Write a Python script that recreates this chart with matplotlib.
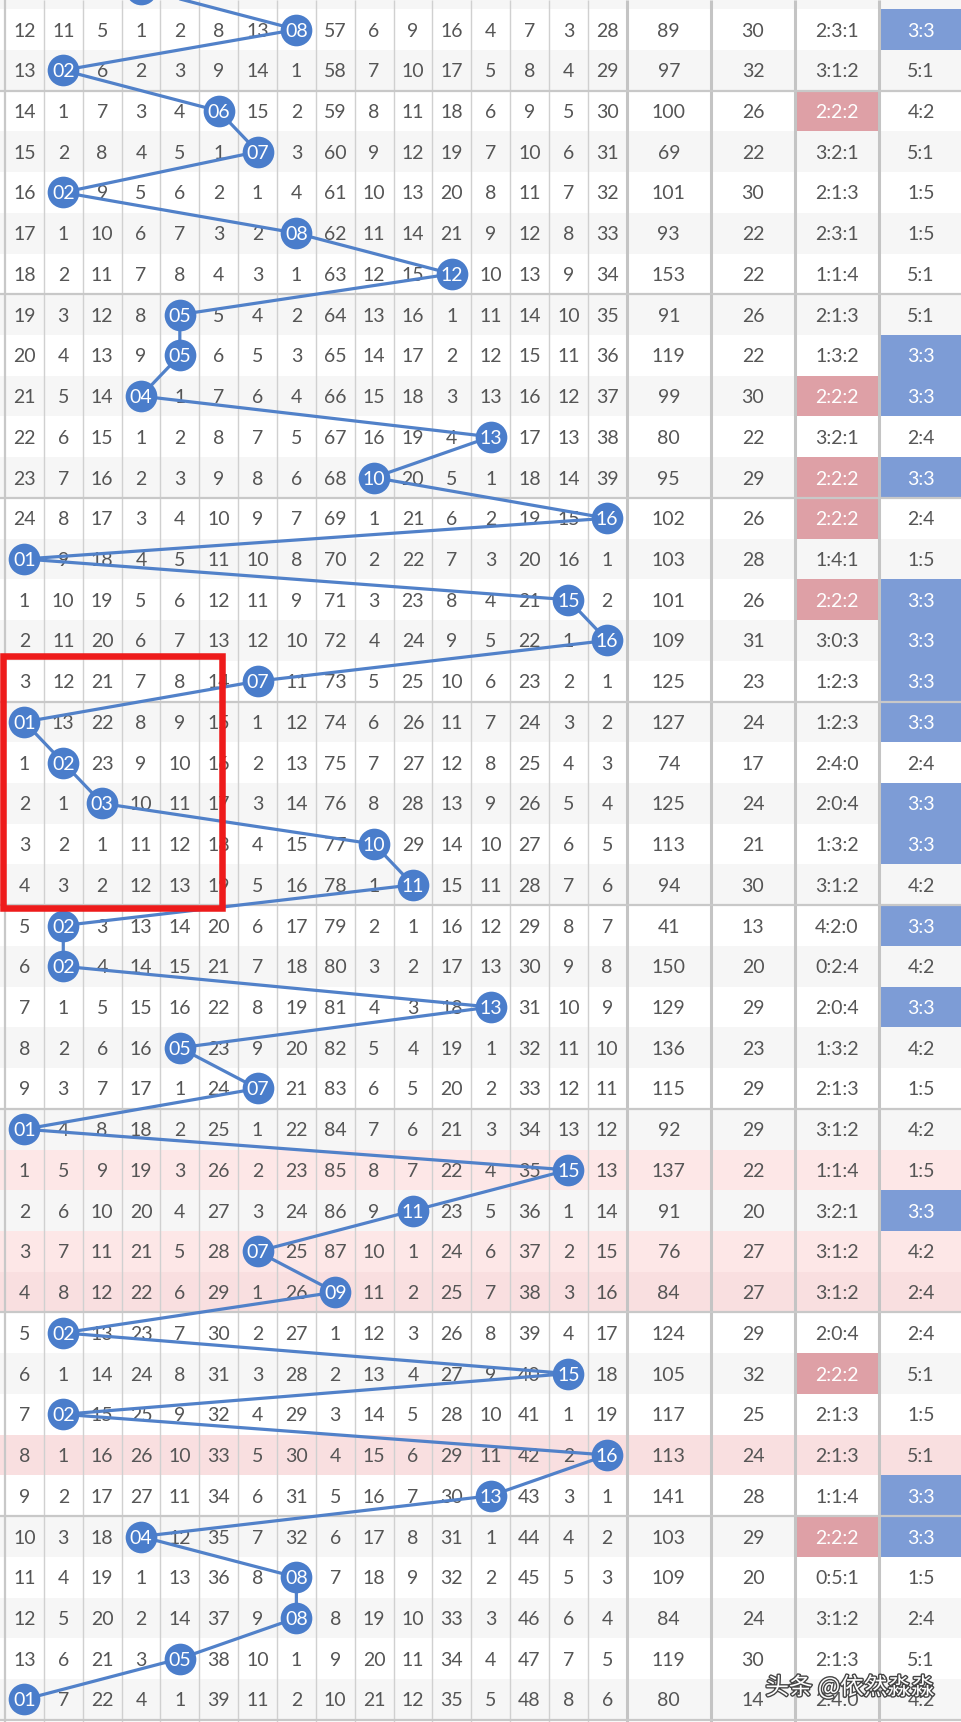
import numpy as np
import matplotlib.pyplot as plt
from matplotlib.patches import Rectangle
import matplotlib.patheffects as pe

plt.rcParams['font.family'] = ['Lato', 'DejaVu Sans']

# blue ball drawn in each row (row above the first one is cut off at the top edge)
prev_draw = 4
draws = [8, 2, 6, 7, 2, 8, 12, 5, 5, 4, 13, 10, 16, 1, 15, 16, 7, 1, 2, 3, 10,
         11, 2, 2, 13, 5, 7, 1, 15, 11, 7, 9, 2, 15, 2, 16, 13, 4, 8, 8, 5, 1]

# omission counts for numbers 01-16, 0 = drawn in that row
omission = [
    [12, 11, 5, 1, 2, 8, 13, 0, 57, 6, 9, 16, 4, 7, 3, 28],
    [13, 0, 6, 2, 3, 9, 14, 1, 58, 7, 10, 17, 5, 8, 4, 29],
    [14, 1, 7, 3, 4, 0, 15, 2, 59, 8, 11, 18, 6, 9, 5, 30],
    [15, 2, 8, 4, 5, 1, 0, 3, 60, 9, 12, 19, 7, 10, 6, 31],
    [16, 0, 9, 5, 6, 2, 1, 4, 61, 10, 13, 20, 8, 11, 7, 32],
    [17, 1, 10, 6, 7, 3, 2, 0, 62, 11, 14, 21, 9, 12, 8, 33],
    [18, 2, 11, 7, 8, 4, 3, 1, 63, 12, 15, 0, 10, 13, 9, 34],
    [19, 3, 12, 8, 0, 5, 4, 2, 64, 13, 16, 1, 11, 14, 10, 35],
    [20, 4, 13, 9, 0, 6, 5, 3, 65, 14, 17, 2, 12, 15, 11, 36],
    [21, 5, 14, 0, 1, 7, 6, 4, 66, 15, 18, 3, 13, 16, 12, 37],
    [22, 6, 15, 1, 2, 8, 7, 5, 67, 16, 19, 4, 0, 17, 13, 38],
    [23, 7, 16, 2, 3, 9, 8, 6, 68, 0, 20, 5, 1, 18, 14, 39],
    [24, 8, 17, 3, 4, 10, 9, 7, 69, 1, 21, 6, 2, 19, 15, 0],
    [0, 9, 18, 4, 5, 11, 10, 8, 70, 2, 22, 7, 3, 20, 16, 1],
    [1, 10, 19, 5, 6, 12, 11, 9, 71, 3, 23, 8, 4, 21, 0, 2],
    [2, 11, 20, 6, 7, 13, 12, 10, 72, 4, 24, 9, 5, 22, 1, 0],
    [3, 12, 21, 7, 8, 14, 0, 11, 73, 5, 25, 10, 6, 23, 2, 1],
    [0, 13, 22, 8, 9, 15, 1, 12, 74, 6, 26, 11, 7, 24, 3, 2],
    [1, 0, 23, 9, 10, 16, 2, 13, 75, 7, 27, 12, 8, 25, 4, 3],
    [2, 1, 0, 10, 11, 17, 3, 14, 76, 8, 28, 13, 9, 26, 5, 4],
    [3, 2, 1, 11, 12, 18, 4, 15, 77, 0, 29, 14, 10, 27, 6, 5],
    [4, 3, 2, 12, 13, 19, 5, 16, 78, 1, 0, 15, 11, 28, 7, 6],
    [5, 0, 3, 13, 14, 20, 6, 17, 79, 2, 1, 16, 12, 29, 8, 7],
    [6, 0, 4, 14, 15, 21, 7, 18, 80, 3, 2, 17, 13, 30, 9, 8],
    [7, 1, 5, 15, 16, 22, 8, 19, 81, 4, 3, 18, 0, 31, 10, 9],
    [8, 2, 6, 16, 0, 23, 9, 20, 82, 5, 4, 19, 1, 32, 11, 10],
    [9, 3, 7, 17, 1, 24, 0, 21, 83, 6, 5, 20, 2, 33, 12, 11],
    [0, 4, 8, 18, 2, 25, 1, 22, 84, 7, 6, 21, 3, 34, 13, 12],
    [1, 5, 9, 19, 3, 26, 2, 23, 85, 8, 7, 22, 4, 35, 0, 13],
    [2, 6, 10, 20, 4, 27, 3, 24, 86, 9, 0, 23, 5, 36, 1, 14],
    [3, 7, 11, 21, 5, 28, 0, 25, 87, 10, 1, 24, 6, 37, 2, 15],
    [4, 8, 12, 22, 6, 29, 1, 26, 0, 11, 2, 25, 7, 38, 3, 16],
    [5, 0, 13, 23, 7, 30, 2, 27, 1, 12, 3, 26, 8, 39, 4, 17],
    [6, 1, 14, 24, 8, 31, 3, 28, 2, 13, 4, 27, 9, 40, 0, 18],
    [7, 0, 15, 25, 9, 32, 4, 29, 3, 14, 5, 28, 10, 41, 1, 19],
    [8, 1, 16, 26, 10, 33, 5, 30, 4, 15, 6, 29, 11, 42, 2, 0],
    [9, 2, 17, 27, 11, 34, 6, 31, 5, 16, 7, 30, 0, 43, 3, 1],
    [10, 3, 18, 0, 12, 35, 7, 32, 6, 17, 8, 31, 1, 44, 4, 2],
    [11, 4, 19, 1, 13, 36, 8, 0, 7, 18, 9, 32, 2, 45, 5, 3],
    [12, 5, 20, 2, 14, 37, 9, 0, 8, 19, 10, 33, 3, 46, 6, 4],
    [13, 6, 21, 3, 0, 38, 10, 1, 9, 20, 11, 34, 4, 47, 7, 5],
    [0, 7, 22, 4, 1, 39, 11, 2, 10, 21, 12, 35, 5, 48, 8, 6],
]

sums = [89, 97, 100, 69, 101, 93, 153, 91, 119, 99, 80, 95, 102, 103, 101, 109,
        125, 127, 74, 125, 113, 94, 41, 150, 129, 136, 115, 92, 137, 91, 76, 84,
        124, 105, 117, 113, 141, 103, 109, 84, 119, 80]
spans = [30, 32, 26, 22, 30, 22, 22, 26, 22, 30, 22, 29, 26, 28, 26, 31, 23, 24,
         17, 24, 21, 30, 13, 20, 29, 23, 29, 29, 22, 20, 27, 27, 29, 32, 25, 24,
         28, 29, 20, 24, 30, 14]
zone_ratio = ['2:3:1', '3:1:2', '2:2:2', '3:2:1', '2:1:3', '2:3:1', '1:1:4', '2:1:3',
              '1:3:2', '2:2:2', '3:2:1', '2:2:2', '2:2:2', '1:4:1', '2:2:2', '3:0:3',
              '1:2:3', '1:2:3', '2:4:0', '2:0:4', '1:3:2', '3:1:2', '4:2:0', '0:2:4',
              '2:0:4', '1:3:2', '2:1:3', '3:1:2', '1:1:4', '3:2:1', '3:1:2', '3:1:2',
              '2:0:4', '2:2:2', '2:1:3', '2:1:3', '1:1:4', '2:2:2', '0:5:1', '3:1:2',
              '2:1:3', '2:4:0']
odd_even = ['3:3', '5:1', '4:2', '5:1', '1:5', '1:5', '5:1', '5:1', '3:3', '3:3',
            '2:4', '3:3', '2:4', '1:5', '3:3', '3:3', '3:3', '3:3', '2:4', '3:3',
            '3:3', '4:2', '3:3', '4:2', '3:3', '4:2', '1:5', '4:2', '1:5', '3:3',
            '4:2', '2:4', '2:4', '5:1', '1:5', '5:1', '3:3', '3:3', '1:5', '2:4',
            '5:1', '4:2']
pink_rows = [29, 31, 32, 36]
marked_rows = (17, 22)   # red box, first six numbers

# ---- layout (pixel based x, row based y) ----
W, H = 961, 1722
row_h = 40.73
y0 = -11.23
grid_left, cw = 5.0, 38.85
xc = grid_left + cw * (np.arange(16) + 0.5)
right_edges = [626.6, 711, 795, 879, 963]
rc = [(a + b) / 2 for a, b in zip(right_edges[:-1], right_edges[1:])]

txt_col = '#555555'
ball_col = '#4a7dcb'
line_col = '#5181c9'
blue_cell = '#7d9cd6'
pink_cell = '#dea0a6'

fig = plt.figure(figsize=(W / 100, H / 100), dpi=100)
ax = fig.add_axes([0, 0, 1, 1])
ax.set_xlim(0, W)
ax.set_ylim((H - y0) / row_h, -y0 / row_h)
ax.axis('off')

n = len(draws)
# row backgrounds
for i in range(0, n + 1):
    if i in pink_rows:
        c = '#fde7e7' if i % 2 else '#f9dfe0'
    else:
        c = 'white' if i % 2 else '#f6f6f6'
    ax.add_patch(Rectangle((0, i - 0.5), W, 1, color=c, lw=0, zorder=0))

# highlighted cells
for i in range(1, n + 1):
    if zone_ratio[i - 1] == '2:2:2':
        ax.add_patch(Rectangle((right_edges[2], i - 0.5), right_edges[3] - right_edges[2], 1,
                               color=pink_cell, lw=0, zorder=0.5))
    if odd_even[i - 1] == '3:3':
        ax.add_patch(Rectangle((right_edges[3], i - 0.5), right_edges[4] - right_edges[3], 1,
                               color=blue_cell, lw=0, zorder=0.5))

# grid lines
ytop, ybot = ax.get_ylim()[1], ax.get_ylim()[0]
for k in range(1, 16):
    ax.vlines(grid_left + cw * k, ytop, ybot, color='#d0d0d0', lw=1.0, zorder=1)
ax.vlines(grid_left, ytop, ybot, color='#c8c8c8', lw=1.6, zorder=1)
for e in right_edges[:-1]:
    ax.vlines(e, ytop, ybot, color='#c4c4c4', lw=2.2, zorder=1)
for i in range(2, n + 1, 5):
    ax.hlines(i + 0.5, 0, W, color='#c8c8c8', lw=1.6, zorder=1)

# cell numbers
for i, row in enumerate(omission, start=1):
    for k, v in enumerate(row):
        if v:
            ax.text(xc[k], i, str(v), ha='center', va='center_baseline',
                    fontsize=14, color=txt_col, zorder=2)
    vals = [str(sums[i - 1]), str(spans[i - 1]), zone_ratio[i - 1], odd_even[i - 1]]
    for j, s in enumerate(vals):
        c = txt_col
        if (j == 2 and s == '2:2:2') or (j == 3 and s == '3:3'):
            c = 'white'
        ax.text(rc[j], i, s, ha='center', va='center_baseline',
                fontsize=14, color=c, zorder=2)

# zigzag line and balls
all_draws = [prev_draw] + draws
bx = [xc[d - 1] for d in all_draws]
by = list(range(0, n + 1))
ax.plot(bx, by, color=line_col, lw=2.3, zorder=3, solid_capstyle='round')
ax.scatter(bx, by, s=520, color=ball_col, linewidths=0, zorder=4)
for x, y, d in zip(bx, by, all_draws):
    ax.text(x, y, f'{d:02d}', ha='center', va='center_baseline', fontsize=14,
            color='white', zorder=5)

# red box
r0, r1 = marked_rows
ax.add_patch(Rectangle((2.5, r0 - 0.62), xc[5] + 3 - 2.5, (r1 - r0) + 1.19,
                       fill=False, ec='#ee1b1b', lw=4.7, zorder=6))

# watermark
ax.text(850, (1687 - y0) / row_h, '头条 @依然淼淼', ha='center', va='center',
        fontsize=17, color='white', family=['Noto Sans CJK SC', 'DejaVu Sans'],
        zorder=7, path_effects=[pe.withStroke(linewidth=2, foreground='#444444')])

fig.savefig('out.png', dpi=100)
